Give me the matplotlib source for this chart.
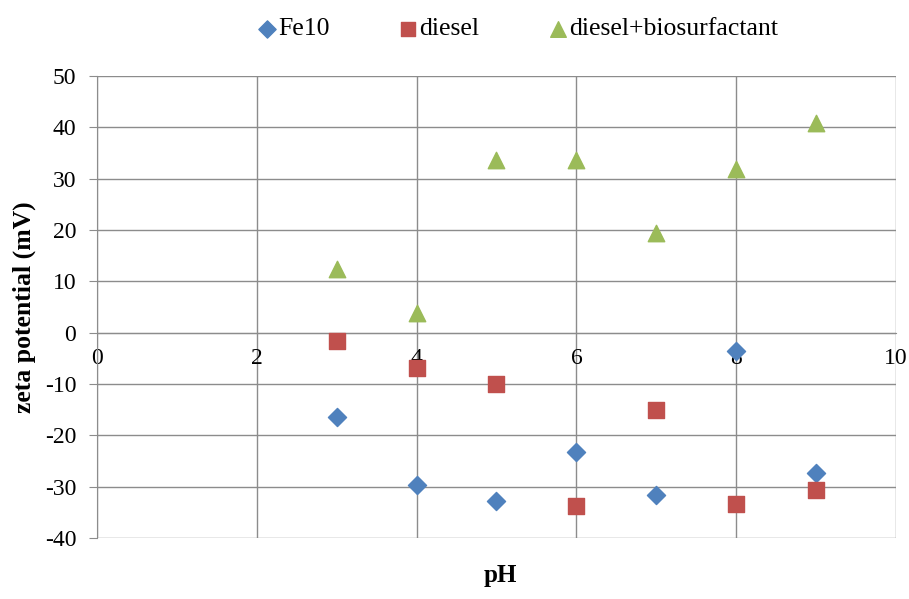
import numpy as np
import matplotlib.pyplot as plt

plt.rcParams['font.family'] = ['Liberation Serif', 'DejaVu Serif']
plt.rcParams['axes.unicode_minus'] = False

# data
ph = [3, 4, 5, 6, 7, 8, 9]
fe10 = [-16.5, -29.6, -32.8, -23.2, -31.7, -3.6, -27.3]
diesel = [-1.6, -6.8, -10.0, -33.7, -15.0, -33.3, -30.7]
diesel_bio = [12.4, 3.8, 33.7, 33.7, 19.5, 31.8, 40.8]

x_ticks = [0, 2, 4, 6, 8, 10]
y_ticks = [-40, -30, -20, -10, 0, 10, 20, 30, 40, 50]

fig = plt.figure(figsize=(9.09, 5.99), dpi=100)
ax = fig.add_axes([0.1067, 0.1018, 0.879, 0.7713])

ax.scatter(ph, fe10, marker='D', s=85, color='#4F81BD', label='Fe10', zorder=3)
ax.scatter(ph, diesel, marker='s', s=125, color='#C0504D', label='diesel', zorder=3)
ax.scatter(ph, diesel_bio, marker='^', s=140, color='#9BBB59',
           label='diesel+biosurfactant', zorder=3)

ax.set_xlim(0, 10)
ax.set_ylim(-40, 50)
ax.set_xticks(x_ticks)
ax.set_yticks(y_ticks)
ax.grid(True, color='#8c8c8c', linewidth=1.0)
ax.set_axisbelow(True)

for s in ['top', 'right']:
    ax.spines[s].set_visible(False)
ax.spines['bottom'].set_position(('data', 0))
ax.spines['bottom'].set_color('#8c8c8c')
ax.spines['left'].set_color('#8c8c8c')
ax.tick_params(axis='x', length=0, labelsize=17, pad=11)
ax.tick_params(axis='y', length=6, color='#8c8c8c', labelsize=17, pad=9)

ax.set_ylabel('zeta potential (mV)', fontsize=18.5, fontweight='bold', labelpad=6)
fig.text(0.55, 0.028, 'pH', fontsize=18, fontweight='bold', ha='center')

ax.legend(loc='center', bbox_to_anchor=(0.527, 1.102), ncol=3, frameon=False,
          fontsize=18.5, handlelength=0.7, handletextpad=0.1, columnspacing=2.7,
          markerscale=0.95, borderaxespad=0, borderpad=0)

fig.savefig('out.png', dpi=100)
